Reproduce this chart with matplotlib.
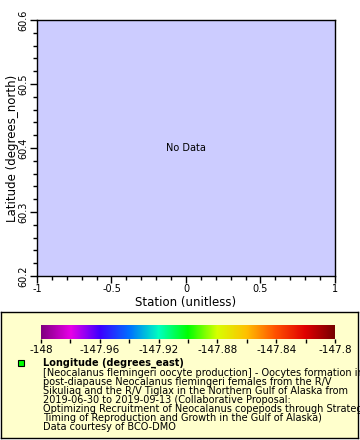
import matplotlib
matplotlib.use('Agg')
import matplotlib.pyplot as plt
import numpy as np
from matplotlib.colors import LinearSegmentedColormap
from matplotlib.ticker import MultipleLocator

# Data / labels
x_range = [-1, 1]
y_range = [60.2, 60.6]
x_ticks = [-1, -0.5, 0, 0.5, 1]
x_ticklabels = ['-1', '-0.5', '0', '0.5', '1']
y_ticks = [60.2, 60.3, 60.4, 60.5, 60.6]
cbar_range = [-148, -147.8]
cbar_ticks = [-148, -147.96, -147.92, -147.88, -147.84, -147.8]
cbar_ticklabels = ['-148', '-147.96', '-147.92', '-147.88', '-147.84', '-147.8']
cmap_colors = ['#800080', '#e800e8', '#3c00ff', '#0070ff', '#00ffc0', '#00ff00',
               '#d8ff00', '#ffc000', '#ff5000', '#e00000', '#780000']
legend_title = 'Longitude (degrees_east)'
legend_lines = [
    '[Neocalanus flemingeri oocyte production] - Oocytes formation in',
    'post-diapause Neocalanus flemingeri females from the R/V',
    'Sikuliaq and the R/V Tiglax in the Northern Gulf of Alaska from',
    '2019-06-30 to 2019-09-13 (Collaborative Proposal:',
    'Optimizing Recruitment of Neocalanus copepods through Strategic',
    'Timing of Reproduction and Growth in the Gulf of Alaska)',
    'Data courtesy of BCO-DMO',
]

plt.rcParams['font.family'] = ['DejaVu Sans']

W, H = 360, 440
fig = plt.figure(figsize=(W / 100, H / 100), dpi=100)

# Legend box (background axes, drawn underneath)
bg = fig.add_axes([1 / W, 1 - 438 / H, 357 / W, (438 - 312) / H], zorder=-1)
bg.set_facecolor('#ffffcc')
bg.set_xticks([])
bg.set_yticks([])
for s in bg.spines.values():
    s.set_linewidth(1)

# Main axes
ax = fig.add_axes([37 / W, 1 - 276 / H, (335 - 37) / W, (276 - 20) / H])
ax.set_facecolor('#ccccff')
ax.set_xlim(x_range)
ax.set_ylim(y_range)
ax.set_xticks(x_ticks)
ax.set_xticklabels(x_ticklabels)
ax.xaxis.set_minor_locator(MultipleLocator(0.1))
ax.set_yticks(y_ticks)
ax.set_yticklabels([f'{v:.1f}' for v in y_ticks], rotation=90, va='center')
ax.yaxis.set_minor_locator(MultipleLocator(0.02))
ax.tick_params(which='major', length=5, width=1, labelsize=7, pad=1, color='black')
ax.tick_params(which='minor', length=3, width=1, color='black')
for s in ax.spines.values():
    s.set_linewidth(1)
ax.set_xlabel('Station (unitless)', fontsize=8.5, labelpad=1)
ax.set_ylabel('Latitude (degrees_north)', fontsize=8.5, labelpad=0)
ax.text(0.5, 0.5, 'No Data', transform=ax.transAxes, ha='center', va='center', fontsize=7)

# Colorbar
cmap = LinearSegmentedColormap.from_list('rainbow2', cmap_colors)
cax = fig.add_axes([41 / W, 1 - 339 / H, (335 - 41) / W, (339 - 325) / H])
grad = np.linspace(cbar_range[0], cbar_range[1], 256).reshape(1, -1)
cax.imshow(grad, aspect='auto', cmap=cmap, extent=[cbar_range[0], cbar_range[1], 0, 1])
cax.set_xlim(cbar_range)
cax.set_yticks([])
cax.set_xticks(cbar_ticks)
cax.set_xticklabels(cbar_ticklabels)
cax.xaxis.set_minor_locator(MultipleLocator(0.02))
cax.tick_params(which='major', length=3, width=1, labelsize=7.5, pad=1)
cax.tick_params(which='minor', length=3, width=1)
for s in cax.spines.values():
    s.set_visible(False)

# Legend entry
fig.patches.append(plt.Rectangle((18 / W, 1 - 366 / H), 6 / W, 6 / H, transform=fig.transFigure,
                                 facecolor='#00ff00', edgecolor='black', linewidth=0.8))
fig.text(43 / W, 1 - 363 / H, legend_title, fontsize=7, fontweight='bold', va='center')
for i, line in enumerate(legend_lines):
    fig.text(43 / W, 1 - (372.7 + i * 9.05) / H, line, fontsize=7, va='center')

fig.savefig('out.png', dpi=100, facecolor='white')
